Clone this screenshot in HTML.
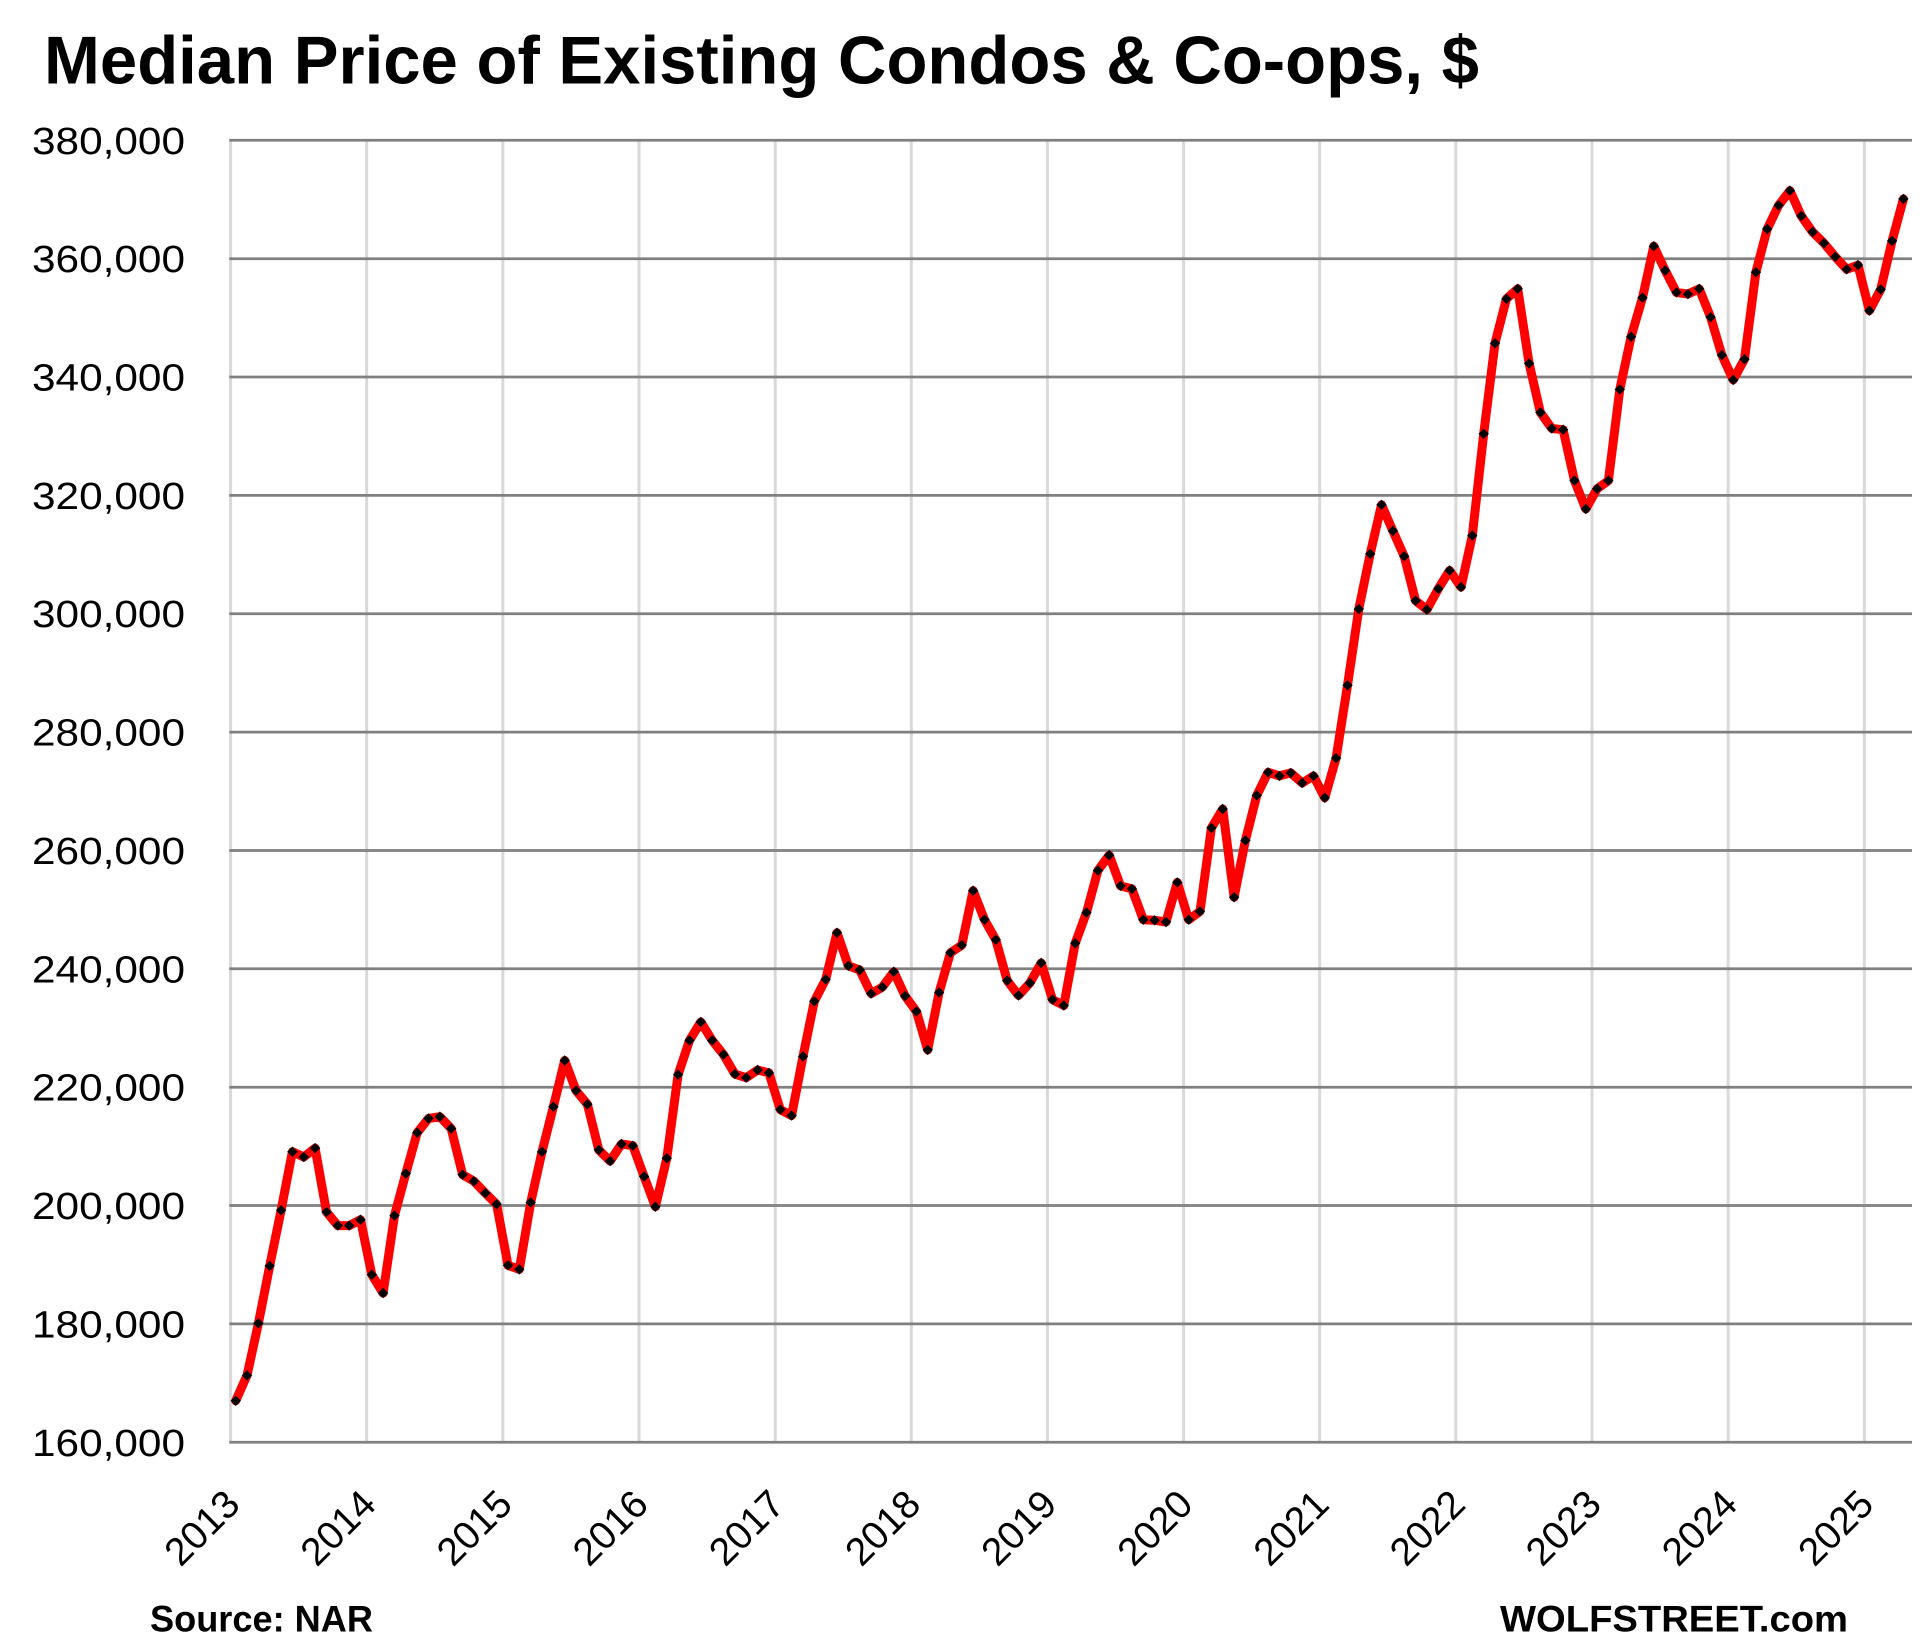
<!DOCTYPE html>
<html>
<head>
<meta charset="utf-8">
<style>
html,body{margin:0;padding:0;background:#fff;}
svg{display:block;}
text{font-family:"Liberation Sans",Arial,sans-serif;fill:#000;}
</style>
</head>
<body>
<svg width="1920" height="1647" viewBox="0 0 1920 1647" xmlns="http://www.w3.org/2000/svg">
<defs>
<marker id="dia" markerUnits="userSpaceOnUse" markerWidth="14" markerHeight="14" refX="0" refY="0" viewBox="-7 -7 14 14" overflow="visible">
<path d="M0,-5.2 L5.2,0 L0,5.2 L-5.2,0 Z" fill="#000"/>
</marker>
</defs>
<rect width="1920" height="1647" fill="#fff"/>

<text x="44" y="83.3" font-size="67.5" font-weight="bold" textLength="1435" lengthAdjust="spacingAndGlyphs">Median Price of Existing Condos &amp; Co-ops, $</text>

<g stroke="#d9d9d9" stroke-width="3">
<line x1="230.6" y1="140.3" x2="230.6" y2="1442.3"/>
<line x1="366.7" y1="140.3" x2="366.7" y2="1442.3"/>
<line x1="502.9" y1="140.3" x2="502.9" y2="1442.3"/>
<line x1="639.0" y1="140.3" x2="639.0" y2="1442.3"/>
<line x1="775.2" y1="140.3" x2="775.2" y2="1442.3"/>
<line x1="911.3" y1="140.3" x2="911.3" y2="1442.3"/>
<line x1="1047.4" y1="140.3" x2="1047.4" y2="1442.3"/>
<line x1="1183.6" y1="140.3" x2="1183.6" y2="1442.3"/>
<line x1="1319.7" y1="140.3" x2="1319.7" y2="1442.3"/>
<line x1="1455.9" y1="140.3" x2="1455.9" y2="1442.3"/>
<line x1="1592.0" y1="140.3" x2="1592.0" y2="1442.3"/>
<line x1="1728.1" y1="140.3" x2="1728.1" y2="1442.3"/>
<line x1="1864.3" y1="140.3" x2="1864.3" y2="1442.3"/>
</g>
<g stroke="#808080" stroke-width="2.75">
<line x1="229.3" y1="140.3" x2="1912" y2="140.3"/>
<line x1="229.3" y1="258.7" x2="1912" y2="258.7"/>
<line x1="229.3" y1="377.0" x2="1912" y2="377.0"/>
<line x1="229.3" y1="495.4" x2="1912" y2="495.4"/>
<line x1="229.3" y1="613.7" x2="1912" y2="613.7"/>
<line x1="229.3" y1="732.1" x2="1912" y2="732.1"/>
<line x1="229.3" y1="850.5" x2="1912" y2="850.5"/>
<line x1="229.3" y1="968.8" x2="1912" y2="968.8"/>
<line x1="229.3" y1="1087.2" x2="1912" y2="1087.2"/>
<line x1="229.3" y1="1205.5" x2="1912" y2="1205.5"/>
<line x1="229.3" y1="1323.9" x2="1912" y2="1323.9"/>
<line x1="229.3" y1="1442.3" x2="1912" y2="1442.3"/>
</g>

<g font-size="38" text-anchor="end">
<text x="185" y="153.8" textLength="153" lengthAdjust="spacingAndGlyphs">380,000</text>
<text x="185" y="272.2" textLength="153" lengthAdjust="spacingAndGlyphs">360,000</text>
<text x="185" y="390.5" textLength="153" lengthAdjust="spacingAndGlyphs">340,000</text>
<text x="185" y="508.9" textLength="153" lengthAdjust="spacingAndGlyphs">320,000</text>
<text x="185" y="627.2" textLength="153" lengthAdjust="spacingAndGlyphs">300,000</text>
<text x="185" y="745.6" textLength="153" lengthAdjust="spacingAndGlyphs">280,000</text>
<text x="185" y="864.0" textLength="153" lengthAdjust="spacingAndGlyphs">260,000</text>
<text x="185" y="982.3" textLength="153" lengthAdjust="spacingAndGlyphs">240,000</text>
<text x="185" y="1100.7" textLength="153" lengthAdjust="spacingAndGlyphs">220,000</text>
<text x="185" y="1219.0" textLength="153" lengthAdjust="spacingAndGlyphs">200,000</text>
<text x="185" y="1337.4" textLength="153" lengthAdjust="spacingAndGlyphs">180,000</text>
<text x="185" y="1455.8" textLength="153" lengthAdjust="spacingAndGlyphs">160,000</text>
</g>

<g font-size="39" text-anchor="end">
<text transform="translate(242,1506.5) rotate(-45)">2013</text>
<text transform="translate(378.1,1506.5) rotate(-45)">2014</text>
<text transform="translate(514.3,1506.5) rotate(-45)">2015</text>
<text transform="translate(650.4,1506.5) rotate(-45)">2016</text>
<text transform="translate(786.6,1506.5) rotate(-45)">2017</text>
<text transform="translate(922.7,1506.5) rotate(-45)">2018</text>
<text transform="translate(1058.8,1506.5) rotate(-45)">2019</text>
<text transform="translate(1195.0,1506.5) rotate(-45)">2020</text>
<text transform="translate(1331.1,1506.5) rotate(-45)">2021</text>
<text transform="translate(1467.3,1506.5) rotate(-45)">2022</text>
<text transform="translate(1603.4,1506.5) rotate(-45)">2023</text>
<text transform="translate(1739.5,1506.5) rotate(-45)">2024</text>
<text transform="translate(1875.7,1506.5) rotate(-45)">2025</text>
</g>

<polyline fill="none" stroke="#ff0000" stroke-width="9" stroke-linejoin="round" stroke-linecap="round"
marker-start="url(#dia)" marker-mid="url(#dia)" marker-end="url(#dia)"
points="
235.7,1400.8 247.0,1375.4 258.4,1323.3 269.7,1265.9 281.1,1210.2 292.4,1151.7 303.8,1157.0 315.1,1148.1 326.5,1212.0 337.8,1225.6 349.2,1225.6 360.5,1219.7
371.8,1274.7 383.1,1293.1 394.5,1215.6 405.8,1173.5 417.2,1132.7 428.5,1118.5 439.9,1116.7 451.2,1128.6 462.6,1174.7 473.9,1181.2 485.3,1193.1 496.6,1204.3
508.0,1265.3 519.3,1269.4 530.7,1202.5 542.0,1151.7 553.4,1106.7 564.7,1060.5 576.1,1090.7 587.4,1104.3 598.8,1149.9 610.1,1161.1 621.5,1144.0 632.8,1145.7
644.1,1176.5 655.4,1206.7 666.8,1158.2 678.1,1074.7 689.5,1040.4 700.8,1022.0 712.2,1040.4 723.5,1054.6 734.9,1074.1 746.2,1077.7 757.6,1070.0 768.9,1072.9
780.3,1109.6 791.6,1115.6 803.0,1056.4 814.3,1001.3 825.7,979.4 837.0,932.7 848.4,965.8 859.7,970.0 871.1,993.6 882.4,987.1 893.8,971.7 905.1,996.0
916.4,1011.4 927.7,1049.9 939.1,992.5 950.4,952.8 961.8,945.1 973.1,890.7 984.5,919.7 995.8,939.8 1007.2,980.6 1018.5,995.4 1029.9,983.0 1041.2,962.9
1052.5,999.6 1063.8,1005.5 1075.2,943.3 1086.5,912.6 1097.9,870.5 1109.2,855.2 1120.6,885.9 1131.9,888.9 1143.3,919.7 1154.6,920.3 1166.0,922.0 1177.3,882.4
1188.7,919.7 1200.0,911.4 1211.4,827.9 1222.7,809.0 1234.1,897.2 1245.4,840.4 1256.8,795.4 1268.1,772.3 1279.5,775.9 1290.8,772.9 1302.2,783.0 1313.5,775.9
1324.8,797.8 1336.1,758.1 1347.5,685.3 1358.8,609.0 1370.2,553.9 1381.5,504.8 1392.9,530.9 1404.2,556.3 1415.6,600.7 1426.9,609.6 1438.3,588.8 1449.6,570.5
1461.0,587.1 1472.3,535.6 1483.7,433.8 1495.0,343.3 1506.4,298.9 1517.7,288.8 1529.1,363.4 1540.4,412.5 1551.8,428.5 1563.1,429.7 1574.5,480.6 1585.8,509.0
1597.1,488.8 1608.4,480.6 1619.8,389.4 1631.1,336.7 1642.5,297.7 1653.8,246.2 1665.2,270.5 1676.5,292.4 1687.9,294.1 1699.2,288.8 1710.6,317.2 1721.9,355.1
1733.2,379.9 1744.5,359.2 1755.9,272.2 1767.2,229.0 1778.6,205.4 1789.9,190.6 1801.3,216.0 1812.6,232.0 1824.0,243.2 1835.3,256.8 1846.7,269.3 1858.0,265.1
1869.4,310.7 1880.7,289.4 1892.1,240.9 1903.4,198.9"/>

<text x="150" y="1631.7" font-size="37" font-weight="bold" textLength="223" lengthAdjust="spacingAndGlyphs">Source: NAR</text>
<text x="1500" y="1631.7" font-size="37" font-weight="bold" textLength="348" lengthAdjust="spacingAndGlyphs">WOLFSTREET.com</text>
</svg>
</body>
</html>
